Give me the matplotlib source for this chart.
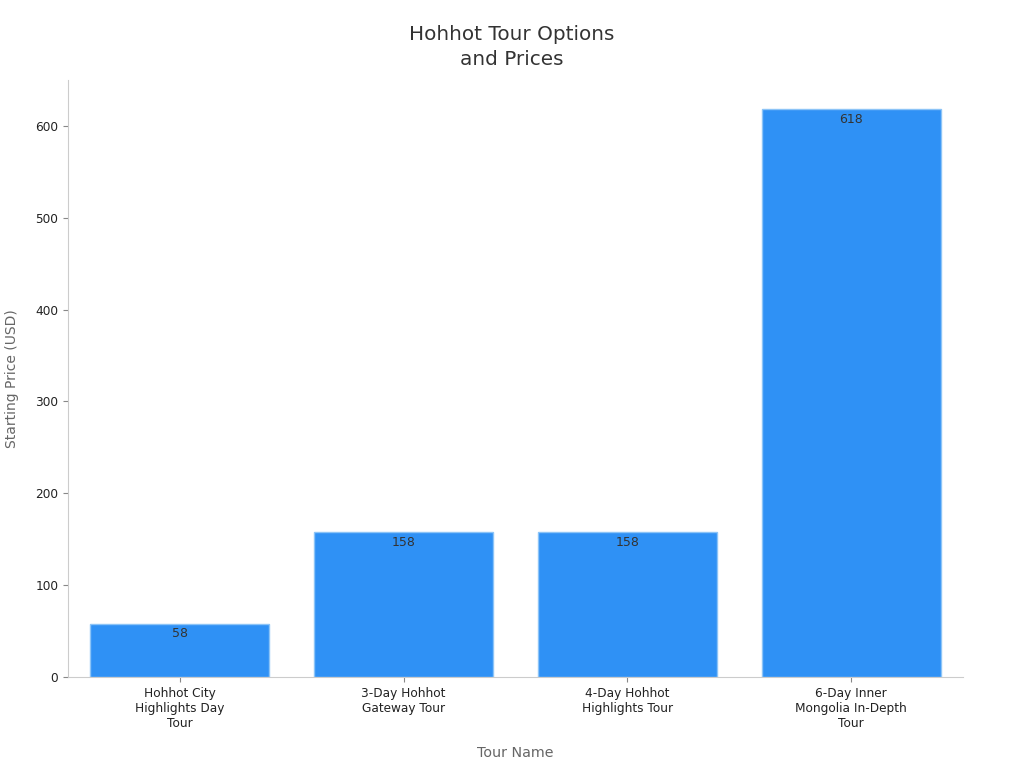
import matplotlib.pyplot as plt

tours = ["Hohhot City\nHighlights Day\nTour", "3-Day Hohhot\nGateway Tour",
         "4-Day Hohhot\nHighlights Tour", "6-Day Inner\nMongolia In-Depth\nTour"]
prices = [58, 158, 158, 618]

fig = plt.figure(figsize=(10.24, 7.68), dpi=100)
ax = fig.add_axes([68/1024, 1-677/768, (963-68)/1024, (677-80)/768])

x = list(range(len(tours)))
bars = ax.bar(x, prices, width=0.8, color="#2f91f5", edgecolor="#8cc4f7", linewidth=1)
for b, v in zip(bars, prices):
    ax.text(b.get_x() + b.get_width()/2, v - 4, str(v), ha="center", va="top",
            fontsize=9, color="#333333")

ax.set_xlim(-0.5, 3.5)
ax.set_ylim(0, 650)
ax.set_xticks(x)
ax.set_xticklabels(tours, fontsize=8.7, color="#222222")
ax.set_yticks([0, 100, 200, 300, 400, 500, 600])
ax.tick_params(axis="y", labelsize=8.7, colors="#222222")
ax.tick_params(axis="both", color="#888888")
for s in ["top", "right"]:
    ax.spines[s].set_visible(False)
for s in ["left", "bottom"]:
    ax.spines[s].set_color("#cccccc")

ax.set_xlabel("Tour Name", fontsize=10.3, color="#666666", labelpad=12)
ax.set_ylabel("Starting Price (USD)", fontsize=10, color="#666666", labelpad=12)
fig.text(0.5, 1-47/768, "Hohhot Tour Options\nand Prices", ha="center", va="center",
         fontsize=14.4, color="#333333", linespacing=1.4)

fig.savefig("out.png", dpi=100)
